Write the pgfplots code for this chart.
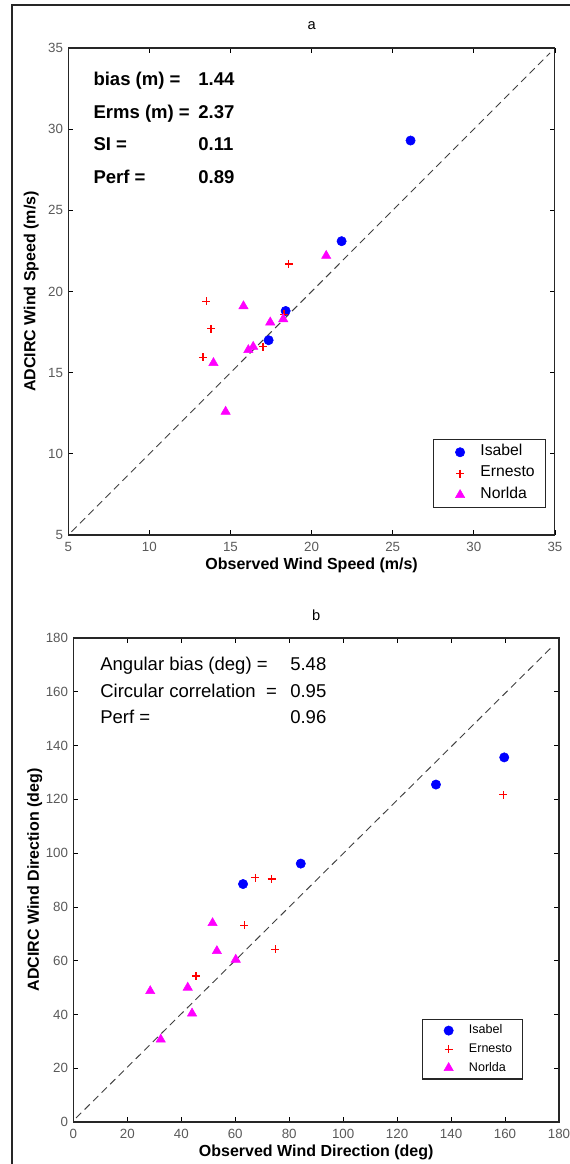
\documentclass[border=0pt]{standalone}
\usepackage{pgfplots}
\pgfplotsset{compat=1.18}
\usepackage{fontspec}
\setmainfont{Liberation Sans}
\definecolor{mblue}{RGB}{0,0,255}
\definecolor{mred}{RGB}{255,0,0}
\definecolor{mmag}{RGB}{255,0,255}

\pgfplotsset{
  mystyle/.style={
    scale only axis,
    axis line style={line width=0.8pt, black!85},
    tick align=inside,
    major tick length=3.75pt,
    every tick/.style={black, line width=0.6pt},
    /pgf/number format/assume math mode=true,
    tick label style={font=\fontsize{10}{12}\selectfont, text=black!65, inner sep=0pt},
    xticklabel style={yshift=-5pt},
    yticklabel style={xshift=-3.75pt},
    every axis x label/.style={at={(axis description cs:0.5,0)}, yshift=-22.5pt, anchor=center, font=\fontsize{12}{14}\selectfont\bfseries},
    every axis title/.style={at={(axis description cs:0.5,1)}, yshift=17pt, anchor=center, font=\fontsize{11}{13}\selectfont},
    legend cell align=left,
    legend image code/.code={\draw[##1] plot coordinates {(13.75pt,0pt)}; \path[draw=none,fill=none] (0pt,-3pt) -- (27pt,3pt);},
    legend style={draw=black!85, line width=0.8pt, fill=white, inner xsep=6pt, inner ysep=1.7pt, anchor=south east},
  },
  isabel/.style={only marks, mark=*, color=mblue, mark size=3.5pt, mark options={draw=mblue, fill=mblue, line width=0.4pt}},
  ernesto/.style={only marks, mark=+, color=mred, mark size=3pt, mark options={draw=mred, line width=0.9pt}},
  norlda/.style={only marks, mark=triangle*, color=mmag, mark size=4pt, mark options={draw=mmag, fill=mmag, line width=0.4pt}},
  refline/.style={black!75, line width=0.7pt, dash pattern=on 5.5pt off 3.5pt, forget plot},
}

\begin{document}
\begin{tikzpicture}
\useasboundingbox (0,0) rectangle (427.5pt,-873pt);
\draw[line width=1pt, black!85] (9pt,-873pt) -- (9pt,-3.75pt) -- (427.5pt,-3.75pt);

% ---------------- Panel a ----------------
\begin{axis}[mystyle,
  at={(51.2pt,-401.25pt)}, anchor=south west,
  width=365pt, height=365.25pt,
  xmin=5, xmax=35, ymin=5, ymax=35,
  xtick={5,10,...,35}, ytick={5,10,...,35},
  title={a},
  xlabel={Observed Wind Speed (m/s)},
  ylabel={ADCIRC Wind Speed (m/s)},
  every axis y label/.style={at={(axis description cs:0,0.5)}, xshift=-27.75pt, rotate=90, anchor=center, font=\fontsize{12}{14}\selectfont\bfseries},
  legend style={at={(axis cs:34.44,6.64)}, font=\fontsize{11.8}{14}\selectfont, nodes={inner sep=2pt, text height=8.5pt, text depth=3.5pt}},
]
\addplot[refline] coordinates {(5.2,5.2) (34.7,34.7)};
\addplot[isabel] coordinates {(26.1,29.3) (21.85,23.1) (18.4,18.8) (17.35,17.0)};
\addlegendentry{Isabel}
\addplot[ernesto] coordinates {(18.6,21.7) (13.5,19.4) (13.8,17.7) (13.3,15.95) (17.0,16.6) (18.3,18.6)};
\addlegendentry{Ernesto}
\addplot[norlda] coordinates {(20.9,22.2) (15.8,19.1) (17.45,18.1) (18.25,18.3) (16.4,16.6) (16.1,16.4) (13.95,15.6) (14.7,12.6)};
\addlegendentry{Norlda}
\begin{scope}[every node/.style={anchor=west, inner sep=0pt, font=\fontsize{13.9}{16}\selectfont\bfseries, text height=10pt, text depth=3pt}]
\node at (axis cs:6.54,33.0) {bias (m) =};
\node at (axis cs:13.0,33.0) {1.44};
\node at (axis cs:6.54,30.94) {Erms (m) =};
\node at (axis cs:13.0,30.94) {2.37};
\node at (axis cs:6.54,29.0) {SI =};
\node at (axis cs:13.0,29.0) {0.11};
\node at (axis cs:6.54,26.95) {Perf =};
\node at (axis cs:13.0,26.95) {0.89};
\end{scope}
\end{axis}

% ---------------- Panel b ----------------
\begin{axis}[mystyle,
  at={(55pt,-841.5pt)}, anchor=south west,
  width=364.25pt, height=363pt,
  xmin=0, xmax=180, ymin=0, ymax=180,
  xtick={0,20,...,180}, ytick={0,20,...,180},
  title={b},
  xlabel={Observed Wind Direction (deg)},
  ylabel={ADCIRC Wind Direction (deg)},
  every axis y label/.style={at={(axis description cs:0,0.5)}, xshift=-29pt, rotate=90, anchor=center, font=\fontsize{12}{14}\selectfont\bfseries},
  legend style={at={(axis cs:166.8,15.8)}, font=\fontsize{9.4}{11}\selectfont, inner ysep=1.3pt, nodes={inner sep=2pt, text height=7.5pt, text depth=2.5pt}},
]
\addplot[refline] coordinates {(1,1.5) (177.7,177)};
\addplot[isabel] coordinates {(159.7,135.6) (134.4,125.5) (84.3,96.1) (62.9,88.5)};
\addlegendentry{Isabel}
\addplot[ernesto] coordinates {(159.4,121.7) (67.5,90.8) (73.5,90.4) (63.3,73.1) (74.9,64.2) (45.5,54.3)};
\addlegendentry{Ernesto}
\addplot[norlda] coordinates {(51.6,74.0) (53.2,63.6) (60.2,60.4) (42.4,50.0) (28.5,48.7) (44.0,40.4) (32.4,30.7)};
\addlegendentry{Norlda}
\begin{scope}[every node/.style={anchor=west, inner sep=0pt, font=\fontsize{13.9}{16}\selectfont, text height=10pt, text depth=3pt}]
\node at (axis cs:9.9,169.6) {Angular bias (deg) =};
\node at (axis cs:80.3,169.6) {5.48};
\node at (axis cs:9.9,159.7) {Circular correlation\ \ =};
\node at (axis cs:80.3,159.7) {0.95};
\node at (axis cs:9.9,150.0) {Perf =};
\node at (axis cs:80.3,150.0) {0.96};
\end{scope}
\end{axis}
\end{tikzpicture}
\end{document}
